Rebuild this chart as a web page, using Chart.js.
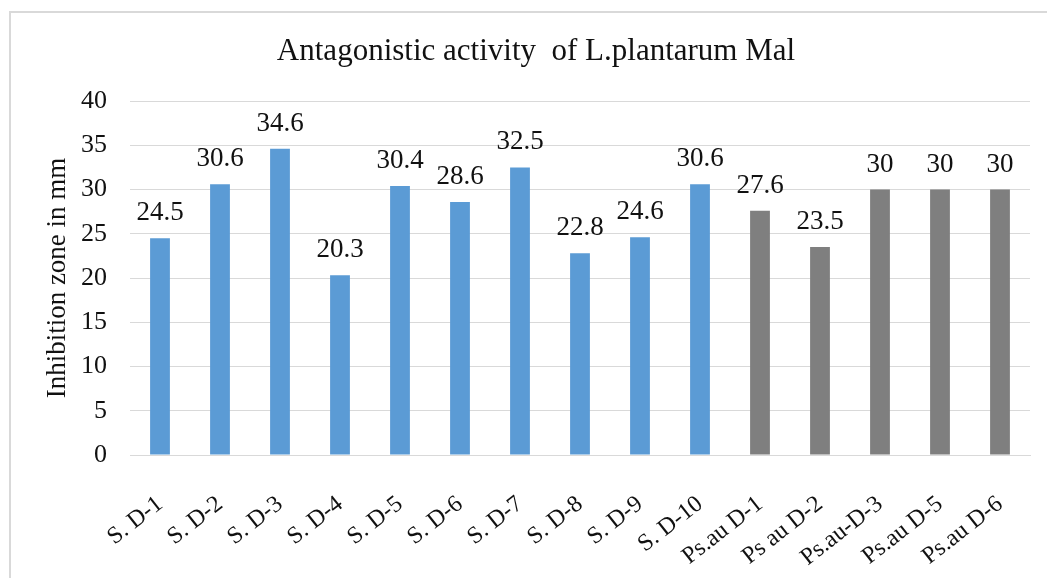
<!DOCTYPE html>
<html>
<head>
<meta charset="utf-8">
<script src="https://cdn.jsdelivr.net/npm/chart.js@4.4.0/dist/chart.umd.min.js"></script>
<style>
  html, body { margin: 0; padding: 0; background: #ffffff; overflow: hidden; width: 1047px; height: 578px; }
  #frame { position: absolute; left: 9px; top: 11px; width: 1060px; height: 600px;
           border-left: 2px solid #d9d9d9; border-top: 2px solid #d9d9d9; }
  #c { position: absolute; left: 0; top: 0; }
</style>
</head>
<body>
<div id="frame"><canvas id="c" width="1044" height="565"></canvas></div>
<script>
const categories = ["S. D-1","S. D-2","S. D-3","S. D-4","S. D-5","S. D-6","S. D-7","S. D-8","S. D-9","S. D-10",
                    "Ps.au D-1","Ps au D-2","Ps.au-D-3","Ps.au D-5","Ps.au D-6"];
const values = [24.5, 30.6, 34.6, 20.3, 30.4, 28.6, 32.5, 22.8, 24.6, 30.6, 27.6, 23.5, 30, 30, 30];
const groups = ["S","S","S","S","S","S","S","S","S","S","P","P","P","P","P"];
const groupColors = { S: "#5B9BD5", P: "#7F7F7F" };
const yTicks = [0, 5, 10, 15, 20, 25, 30, 35, 40];
const titleText = "Antagonistic activity  of L.plantarum Mal";
const yTitle = "Inhibition zone in mm";

const FONT = "'Liberation Serif', 'Times New Roman', serif";
const TEXT = "#111111";

const valueLabels = {
  id: "valueLabels",
  afterDatasetsDraw(chart) {
    const ctx = chart.ctx;
    const meta = chart.getDatasetMeta(0);
    ctx.save();
    ctx.font = "27px " + FONT;
    ctx.fillStyle = TEXT;
    ctx.textAlign = "center";
    ctx.textBaseline = "alphabetic";
    meta.data.forEach((bar, i) => {
      ctx.fillText(String(values[i]), bar.x, bar.y - 18);
    });
    ctx.restore();
  }
};

new Chart(document.getElementById("c"), {
  type: "bar",
  data: {
    labels: categories,
    datasets: [{
      data: values,
      backgroundColor: groups.map(g => groupColors[g]),
      borderWidth: 0,
      barPercentage: 0.66,
      categoryPercentage: 0.5
    }]
  },
  options: {
    responsive: false,
    animation: false,
    layout: { padding: { left: 31, right: 25, top: 10, bottom: 0 } },
    plugins: {
      legend: { display: false },
      tooltip: { enabled: false },
      title: {
        display: true,
        text: titleText,
        color: TEXT,
        font: { family: FONT, size: 31, weight: "normal" },
        padding: { top: 10.4, bottom: 30.4 }
      }
    },
    scales: {
      x: {
        afterFit(scale) { scale.height = 123; },
        grid: { display: false, drawTicks: false },
        border: { display: true, color: "#d9d9d9", width: 1 },
        ticks: {
          color: TEXT,
          font: { family: FONT, size: 24 },
          minRotation: 38,
          maxRotation: 38,
          padding: 35,
          autoSkip: false
        }
      },
      y: {
        min: 0,
        max: 40,
        afterBuildTicks(axis) { axis.ticks = yTicks.map(v => ({ value: v })); },
        afterFit(scale) { scale.width = 88; },
        grid: { color: "#d9d9d9", lineWidth: 1, drawTicks: false },
        border: { display: false },
        ticks: {
          color: TEXT,
          font: { family: FONT, size: 26 },
          padding: 23
        },
        title: {
          display: true,
          text: yTitle,
          color: TEXT,
          font: { family: FONT, size: 27 },
          padding: { top: 0, bottom: 0 }
        }
      }
    }
  },
  plugins: [valueLabels]
});
</script>
</body>
</html>
